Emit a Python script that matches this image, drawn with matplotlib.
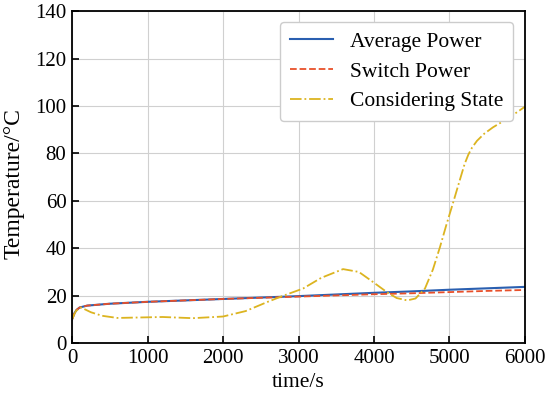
import numpy as np
import matplotlib
matplotlib.use("Agg")
import matplotlib.pyplot as plt

plt.rcParams['font.family'] = ['Liberation Serif', 'DejaVu Serif']
plt.rcParams['mathtext.fontset'] = 'stix'

# Average Power
t_avg = [0, 30, 60, 100, 200, 500, 1000, 1500, 2000, 2500, 3000, 3500, 4000, 4500, 5000, 5500, 6000]
avg = [10.0, 12.5, 14.0, 15.0, 15.8, 16.6, 17.4, 18.0, 18.6, 19.2, 19.8, 20.5, 21.2, 21.8, 22.5, 23.1, 23.7]

# Switch Power
t_sw = [0, 30, 60, 100, 200, 500, 1000, 1500, 2000, 2500, 3000, 3500, 4000, 4500, 5000, 5500, 6000]
sw = [10.0, 12.5, 14.0, 15.0, 15.8, 16.6, 17.4, 18.0, 18.6, 19.1, 19.6, 20.1, 20.6, 21.0, 21.5, 22.0, 22.4]

# Considering State
t_cs = [0, 50, 120, 250, 400, 600, 900, 1200, 1600, 2000, 2300, 2600, 2800, 3060, 3300, 3590, 3800,
        3950, 4170, 4300, 4440, 4550, 4675, 4780, 4874, 4960, 5046, 5139, 5200, 5250, 5300, 5364,
        5460, 5576, 5800, 6000]
cs = [10.0, 13.5, 15.0, 13.0, 11.5, 10.6, 10.8, 11.0, 10.5, 11.2, 13.5, 17.5, 20.0, 23.0, 27.5, 31.2, 30.0,
      26.6, 21.5, 19.0, 18.0, 18.8, 23.0, 31.0, 40.5, 50.0, 59.0, 69.0, 75.5, 79.5, 82.5, 85.3,
      88.3, 91.0, 95.3, 99.7]

xticks = [0, 1000, 2000, 3000, 4000, 5000, 6000]
yticks = [0, 20, 40, 60, 80, 100, 120, 140]

fig = plt.figure(figsize=(5.5, 3.98), dpi=100)
ax = fig.add_axes([0.131, 0.138, 0.8235, 0.834])

ax.plot(t_avg, avg, '-', color='#2a5fb0', lw=1.5, label='Average Power')
ax.plot(t_sw, sw, '--', color='#e8502a', lw=1.3, label='Switch Power')
ax.plot(t_cs, cs, '-.', color='#dcb420', lw=1.3, label='Considering State')

ax.set_xlim(0, 6000)
ax.set_ylim(0, 140)
ax.set_xticks(xticks)
ax.set_yticks(yticks)
ax.grid(True, color='#d0d0d0', lw=0.8)
ax.set_axisbelow(True)
ax.tick_params(direction='in', labelsize=15, length=5, width=1.2, top=False, right=False, pad=4)
for s in ax.spines.values():
    s.set_linewidth(1.3)
ax.set_xlabel('time/s', fontsize=15.5, labelpad=4)
ax.set_ylabel('Temperature/°C', fontsize=17)
ax.yaxis.set_label_coords(-0.104, 0.48)
ax.legend(loc='upper right', fontsize=15.5, handlelength=2.0, borderpad=0.45,
          labelspacing=0.45, framealpha=1, edgecolor='#cccccc',
          bbox_to_anchor=(0.9735, 0.967), borderaxespad=0)

fig.savefig('out.png', dpi=100)
